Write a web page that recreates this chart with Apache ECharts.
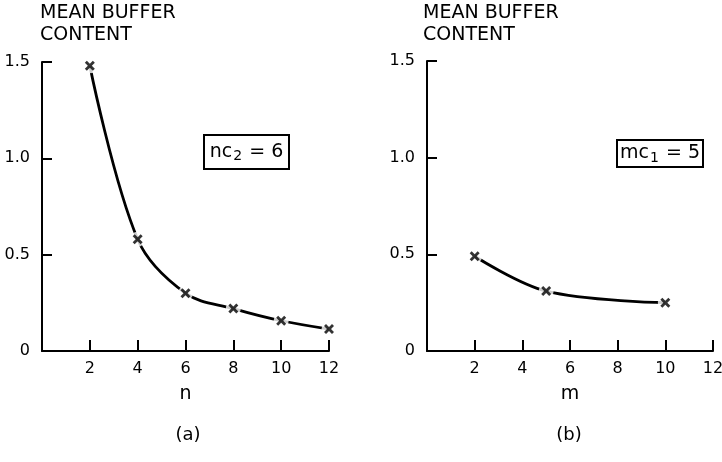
<!DOCTYPE html>
<html><head><meta charset="utf-8">
<script src="https://cdn.jsdelivr.net/npm/echarts@6/dist/echarts.min.js"></script>
<style>html,body{margin:0;padding:0;background:#fff}#c{width:722px;height:462px}</style>
</head><body><div id="c"></div>
<script>
// Panel (a): mean buffer content vs n (nc2 = 6)
const nValues = [2, 4, 6, 8, 10, 12];
const bufferA = [1.48, 0.58, 0.30, 0.22, 0.157, 0.114];
// Panel (b): mean buffer content vs m (mc1 = 5)
const mValues = [2, 5, 10];
const bufferB = [0.49, 0.31, 0.25];
const yTicks = [0, 0.5, 1.0, 1.5];
const xTicks = [2, 4, 6, 8, 10, 12];

const FONT = 'DejaVu Sans';
const X_PATH = 'path://M0,2L2,0L5,3L8,0L10,2L7,5L10,8L8,10L5,7L2,10L0,8L3,5Z';

function pairs(xs, ys) { return xs.map((x, i) => [x, ys[i]]); }

function xAxis(gi, name) {
  return {
    gridIndex: gi, type: 'value', min: 0, max: 12, interval: 2,
    name: name, nameLocation: 'middle', nameGap: 34,
    nameTextStyle: { color: '#000', fontSize: 19, fontFamily: FONT },
    axisLine: { lineStyle: { color: '#000', width: 2 } },
    axisTick: { inside: true, length: 11, lineStyle: { color: '#000', width: 2 } },
    axisLabel: { margin: 10, color: '#000', fontSize: 16, fontFamily: FONT, showMinLabel: false,
      formatter: v => (xTicks.indexOf(v) >= 0 ? String(v) : '') },
    splitLine: { show: false }
  };
}
function yAxis(gi) {
  return {
    gridIndex: gi, type: 'value', min: 0, max: 1.5, interval: 0.5,
    axisLine: { show: true, lineStyle: { color: '#000', width: 2 } },
    axisTick: { show: true, inside: true, length: 10, lineStyle: { color: '#000', width: 2 } },
    axisLabel: { margin: 12, color: '#000', fontSize: 16, fontFamily: FONT,
      formatter: v => (yTicks.indexOf(v) < 0 ? '' : v === 0 ? '0' : v.toFixed(1)) },
    splitLine: { show: false }
  };
}
function seriesFor(gi, xs, ys) {
  const d = pairs(xs, ys);
  return [
    { type: 'line', xAxisIndex: gi, yAxisIndex: gi, data: d, smooth: 0.35, showSymbol: false,
      lineStyle: { color: '#000', width: 2.8 }, z: 2, silent: true },
    { type: 'scatter', xAxisIndex: gi, yAxisIndex: gi, data: d, symbol: 'circle', symbolSize: 15,
      itemStyle: { color: '#fff' }, z: 3, silent: true },
    { type: 'scatter', xAxisIndex: gi, yAxisIndex: gi, data: d, symbol: X_PATH, symbolSize: 10,
      itemStyle: { color: '#000' }, z: 4, silent: true }
  ];
}

const boxRich = {
  a: { fontSize: 19, fontFamily: FONT, color: '#000' },
  s: { fontSize: 14, fontFamily: FONT, color: '#000', padding: [9, 1, 0, 1] }
};

const chart = echarts.init(document.getElementById('c'), null, { renderer: 'canvas' });
chart.setOption({
  backgroundColor: '#fff',
  animation: false,
  grid: [
    { left: 42, top: 62, width: 287, height: 289, outerBoundsMode: 'none', containLabel: false },
    { left: 427, top: 61, width: 286, height: 290, outerBoundsMode: 'none', containLabel: false }
  ],
  xAxis: [xAxis(0, 'n'), xAxis(1, 'm')],
  yAxis: [yAxis(0), yAxis(1)],
  series: [...seriesFor(0, nValues, bufferA), ...seriesFor(1, mValues, bufferB)],
  graphic: [
    { type: 'text', left: 40, top: 2, style: { text: 'MEAN BUFFER\nCONTENT', fill: '#000',
      font: '19px "DejaVu Sans"', lineHeight: 22 } },
    { type: 'text', left: 423, top: 2, style: { text: 'MEAN BUFFER\nCONTENT', fill: '#000',
      font: '19px "DejaVu Sans"', lineHeight: 22 } },
    { type: 'rect', shape: { x: 204, y: 135, width: 85, height: 34 },
      style: { fill: '#fff', stroke: '#000', lineWidth: 2 } },
    { type: 'text', x: 246.5, y: 152, style: { text: '{a|nc}{s|2}{a| = 6}', rich: boxRich,
      align: 'center', verticalAlign: 'middle' } },
    { type: 'rect', shape: { x: 617, y: 140, width: 86, height: 27 },
      style: { fill: '#fff', stroke: '#000', lineWidth: 2 } },
    { type: 'text', x: 660, y: 153.5, style: { text: '{a|mc}{s|1}{a| = 5}', rich: boxRich,
      align: 'center', verticalAlign: 'middle' } },
    { type: 'text', x: 188, y: 435, style: { text: '(a)', fill: '#000',
      font: '18px "DejaVu Sans"', align: 'center', verticalAlign: 'middle' } },
    { type: 'text', x: 569, y: 435, style: { text: '(b)', fill: '#000',
      font: '18px "DejaVu Sans"', align: 'center', verticalAlign: 'middle' } }
  ]
});
</script></body></html>
